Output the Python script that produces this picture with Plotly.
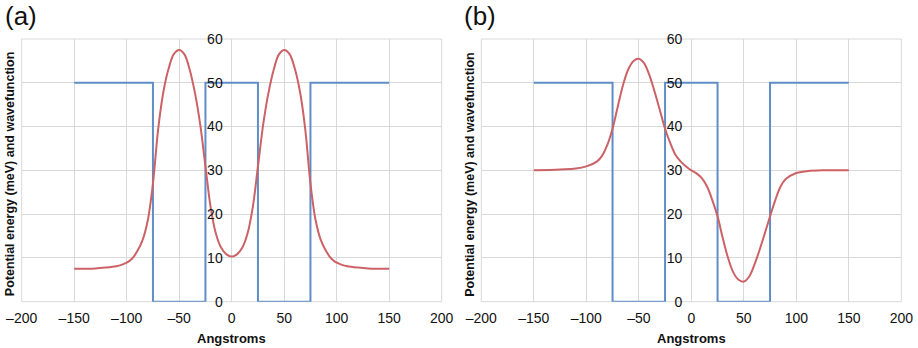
import plotly.graph_objects as go

# Square-well potential (meV) shared by both panels
x_pot = [-150, -75, -75, -25, -25, 25, 25, 75, 75, 150]
v_pot = [50, 50, 0, 0, 50, 50, 0, 0, 50, 50]

# Panel (a): symmetric ground-state wavefunction, offset by its energy
x_a = [-150, -130, -120, -110, -105, -100, -95, -90, -85, -80, -75, -70, -65, -60, -55,
       -50, -45, -40, -35, -30, -25, -20, -15, -10, -5, 0,
       5, 10, 15, 20, 25, 30, 35, 40, 45, 50, 55, 60, 65, 70, 75,
       80, 85, 90, 95, 100, 105, 110, 120, 130, 150]
psi_a = [7.5, 7.6, 7.8, 8.1, 8.4, 8.9, 9.8, 11.5, 14.0, 18.5, 27.0, 39.5, 48.0, 53.3, 56.6,
         57.5, 56.5, 53.0, 47.7, 40.5, 30.9, 21.5, 15.5, 12.3, 10.8, 10.3,
         10.8, 12.3, 15.5, 21.5, 30.9, 40.5, 47.7, 53.0, 56.5, 57.5, 56.6, 53.3, 48.0, 39.5, 27.0,
         18.5, 14.0, 11.5, 9.8, 8.9, 8.4, 8.1, 7.8, 7.6, 7.5]

# Panel (b): antisymmetric first excited state, offset by its energy
x_b = [-150, -125, -110, -100, -90, -85, -80, -75, -70, -65, -60, -55,
       -50, -45, -40, -35, -30, -25, -20, -15, -10, -5, 0,
       5, 10, 15, 20, 25, 30, 35, 40, 45, 50, 55, 60, 65, 70, 75,
       80, 85, 90, 100, 110, 125, 150]
psi_b = [30.0, 30.2, 30.4, 30.9, 32.0, 33.3, 35.8, 39.5, 44.6, 49.5, 53.1, 55.0,
         55.5, 54.5, 51.8, 48.0, 43.8, 39.5, 36.2, 33.5, 32.0, 30.9, 30.0,
         29.3, 28.2, 26.3, 23.2, 19.5, 14.5, 10.0, 6.7, 5.0, 4.6, 5.7, 8.4, 11.8, 15.6, 19.5,
         23.2, 26.3, 28.0, 29.4, 29.8, 30.0, 30.0]

x_ticks = [-200, -150, -100, -50, 0, 50, 100, 150, 200]
x_tick_text = [("\u2013" + str(-v)) if v < 0 else str(v) for v in x_ticks]
y_ticks = [0, 10, 20, 30, 40, 50, 60]

W, H = 918, 348
BLUE = "#5f8dc8"
RED = "#cc6266"
GRID = "#d9d9d9"
FONT = "Liberation Sans, Arial, sans-serif"

# plot-area boxes in pixels: (left, right)
panels = [(21.7, 441.7), (481.3, 901.3)]
top_px, bottom_px = 39.0, 301.7
ydom = [1 - bottom_px / H, 1 - top_px / H]

fig = go.Figure()
for i, (xs, ys) in enumerate([(x_a, psi_a), (x_b, psi_b)], start=1):
    sfx = "" if i == 1 else str(i)
    fig.add_trace(go.Scatter(x=x_pot, y=v_pot, mode="lines",
                             line=dict(color=BLUE, width=2),
                             xaxis="x" + sfx, yaxis="y" + sfx, showlegend=False))
    fig.add_trace(go.Scatter(x=xs, y=ys, mode="lines",
                             line=dict(color=RED, width=2, shape="spline", smoothing=1),
                             xaxis="x" + sfx, yaxis="y" + sfx, showlegend=False))

layout = dict(width=W, height=H, margin=dict(l=0, r=0, t=0, b=0, pad=0, autoexpand=False),
              paper_bgcolor="white", plot_bgcolor="white",
              font=dict(family=FONT, size=14, color="#111111"))

annotations = []
shapes = []
for i, (l, r) in enumerate(panels, start=1):
    sfx = "" if i == 1 else str(i)
    xd = [l / W, r / W]
    layout["xaxis" + sfx] = dict(
        domain=xd, range=[-200, 200], tickvals=x_ticks, ticktext=x_tick_text,
        showgrid=True, gridcolor=GRID, gridwidth=1, zeroline=False, showline=False,
        ticks="", ticklabelstandoff=6, anchor="y" + sfx, automargin=False,
        tickfont=dict(family=FONT, size=14, color="#111111"))
    layout["yaxis" + sfx] = dict(
        domain=ydom, range=[0, 60], tickvals=y_ticks,
        showgrid=True, gridcolor=GRID, gridwidth=1, zeroline=False, showline=False,
        ticks="", anchor="free", position=(xd[0] + xd[1]) / 2, ticklabelstandoff=9,
        automargin=False,
        tickfont=dict(family=FONT, size=14, color="#111111"))
    # outer grid frame of the plotting area
    shapes.append(dict(type="rect", xref="x" + sfx + " domain", yref="y" + sfx + " domain",
                       x0=0, x1=1, y0=0, y1=1, layer="below",
                       line=dict(color=GRID, width=1)))
    cx = (l + r) / 2
    annotations.append(dict(text="<b>Angstroms</b>", x=cx / W, y=1 - 338 / H,
                            xref="paper", yref="paper", showarrow=False,
                            xanchor="center", yanchor="middle",
                            font=dict(family=FONT, size=13, color="#111111")))
    annotations.append(dict(text="<b>Potential energy (meV) and wavefunction</b>",
                            x=(l - 11.5) / W, y=1 - 174 / H, textangle=-90,
                            xref="paper", yref="paper", showarrow=False,
                            xanchor="center", yanchor="middle",
                            font=dict(family=FONT, size=12.5, color="#111111")))
    annotations.append(dict(text="(a)" if i == 1 else "(b)",
                            x=(l - 19) / W, y=1 - 16 / H,
                            xref="paper", yref="paper", showarrow=False,
                            xanchor="left", yanchor="middle",
                            font=dict(family=FONT, size=26, color="#111111")))
layout["annotations"] = annotations
layout["shapes"] = shapes
fig.update_layout(**layout)

fig.write_html("out.html")
